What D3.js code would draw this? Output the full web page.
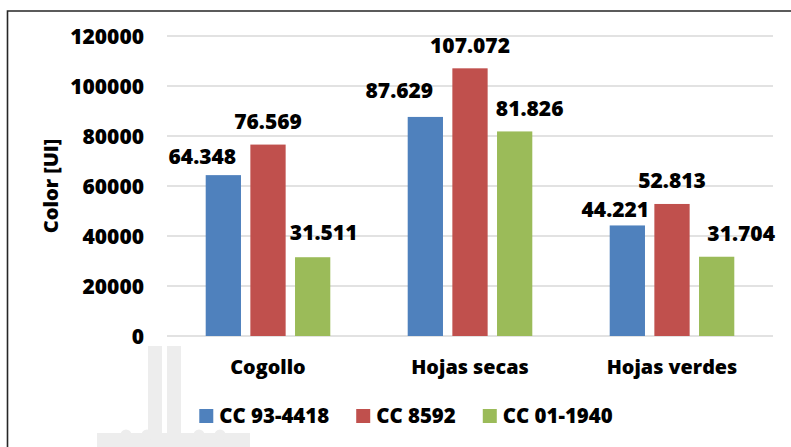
<!DOCTYPE html>
<html>
<head>
<meta charset="utf-8">
<script src="https://cdn.jsdelivr.net/npm/d3@7"></script>
<style>
  html, body { margin: 0; padding: 0; background: #fff; }
  svg { display: block; }
  text { font-family: "Open Sans", "Liberation Sans", sans-serif; font-weight: 800; fill: #000; }
</style>
</head>
<body>
<svg id="chart" width="791" height="447"></svg>
<script>
// ---- data ----
const categories = ["Cogollo", "Hojas secas", "Hojas verdes"];
const seriesNames = ["CC 93-4418", "CC 8592", "CC 01-1940"];
const valuesCC934418 = [64348, 87629, 44221];
const valuesCC8592 = [76569, 107072, 52813];
const valuesCC011940 = [31511, 81826, 31704];
const valueLabels = [
  ["64.348", "87.629", "44.221"],
  ["76.569", "107.072", "52.813"],
  ["31.511", "81.826", "31.704"]
];
const yTicks = [0, 20000, 40000, 60000, 80000, 100000, 120000];
const yAxisTitle = "Color [UI]";

// ---- layout / style (not data) ----
const colors = ["#4f81bd", "#c0504d", "#9bbb59"];
const plot = { left: 167, right: 773, top: 36, bottom: 336 };
// manual label nudges [dx, dy] per series per category (as in reference)
const labelNudge = [
  [[-21, 4], [-26, -3], [-12, 7]],
  [[0, 0], [0, 0], [0, 0]],
  [[11, -1.5], [15, 0], [24.5, 0]]
];

const allSeries = [valuesCC934418, valuesCC8592, valuesCC011940];
const svg = d3.select("#chart");

// watermark silhouette (background decoration)
const wm = svg.append("g").attr("fill", "#ededed");
wm.append("rect").attr("x", 148).attr("y", 346).attr("width", 14).attr("height", 101);
wm.append("rect").attr("x", 167).attr("y", 346).attr("width", 14).attr("height", 101);
wm.append("rect").attr("x", 97).attr("y", 433).attr("width", 153).attr("height", 14);
[126, 147, 199, 220].forEach(cx => wm.append("circle").attr("cx", cx).attr("cy", 435).attr("r", 5.5));

// outer border (chart area frame)
svg.append("path")
  .attr("d", "M7.5,447 L7.5,11 L791,11")
  .attr("fill", "none").attr("stroke", "#262626").attr("stroke-width", 1.6);

const x0 = d3.scaleBand().domain(categories).range([plot.left, plot.right]).padding(0);
const bw = x0.bandwidth();
const x1 = d3.scaleBand().domain(seriesNames)
  .range([bw * 0.1916, bw * 0.8084]).paddingInner(0.21).paddingOuter(0);
const y = d3.scaleLinear().domain([0, 120000]).range([plot.bottom, plot.top]);

// gridlines
svg.append("g").selectAll("line").data(yTicks).join("line")
  .attr("x1", plot.left).attr("x2", plot.right)
  .attr("y1", d => y(d)).attr("y2", d => y(d))
  .attr("stroke", "#d9d9d9").attr("stroke-width", 1.5);

// y axis tick labels
const yAxis = d3.axisLeft(y).tickValues(yTicks).tickFormat(d => String(d)).tickSize(0).tickPadding(0);
const ya = svg.append("g").attr("transform", `translate(144,0)`).call(yAxis);
ya.select(".domain").remove();
ya.selectAll("text")
  .attr("font-size", 21).attr("font-family", "'Open Sans', sans-serif")
  .attr("font-weight", 800).attr("fill", "#000").attr("dy", "0.36em");

// y axis title
svg.append("text")
  .attr("transform", `translate(58,${(plot.top + plot.bottom) / 2}) rotate(-90)`)
  .attr("text-anchor", "middle").attr("font-size", 20)
  .text(yAxisTitle);

// bars
const groups = svg.append("g").selectAll("g").data(categories).join("g")
  .attr("transform", d => `translate(${x0(d)},0)`);

groups.selectAll("rect")
  .data((c, ci) => seriesNames.map((s, si) => ({ s, si, ci, v: allSeries[si][ci] })))
  .join("rect")
  .attr("x", d => x1(d.s))
  .attr("width", x1.bandwidth())
  .attr("y", d => y(d.v))
  .attr("height", d => y(0) - y(d.v))
  .attr("fill", d => colors[d.si]);

// value labels
groups.selectAll("text.val")
  .data((c, ci) => seriesNames.map((s, si) => ({ s, si, ci, v: allSeries[si][ci] })))
  .join("text")
  .attr("class", "val")
  .attr("text-anchor", "middle")
  .attr("font-size", 21)
  .attr("x", d => x1(d.s) + x1.bandwidth() / 2 + labelNudge[d.si][d.ci][0])
  .attr("y", d => y(d.v) - 15.5 + labelNudge[d.si][d.ci][1])
  .text(d => valueLabels[d.si][d.ci]);

// category labels
svg.append("g").selectAll("text").data(categories).join("text")
  .attr("x", d => x0(d) + bw / 2)
  .attr("y", 374)
  .attr("text-anchor", "middle")
  .attr("font-size", 19.8)
  .text(d => d);

// legend
const legend = svg.append("g");
const items = legend.selectAll("g").data(seriesNames).join("g");
items.append("rect").attr("width", 14).attr("height", 14).attr("y", 409)
  .attr("fill", (d, i) => colors[i]);
items.append("text").attr("x", 20).attr("y", 423).attr("font-size", 20.4).text(d => d);
let cursor = 0;
const widths = [];
items.each(function () {
  const w = this.querySelector("text").getComputedTextLength() + 20;
  widths.push(w);
});
const gap = 27;
const total = d3.sum(widths) + gap * (widths.length - 1);
cursor = 406 - total / 2;
items.attr("transform", (d, i) => {
  const tx = cursor;
  cursor += widths[i] + gap;
  return `translate(${tx},0)`;
});
</script>
</body>
</html>
